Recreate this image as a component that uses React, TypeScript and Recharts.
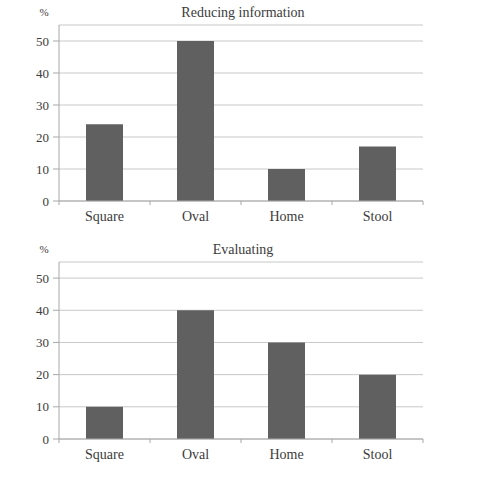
import { Bar, BarChart, CartesianGrid, XAxis, YAxis } from "recharts";

const categories = ["Square", "Oval", "Home", "Stool"];
const reducingValues = [24, 50, 10, 17];
const evaluatingValues = [10, 40, 30, 20];
const yTicks = [0, 10, 20, 30, 40, 50];
const Y_MAX = 55;

const FONT = '"Liberation Serif", "Times New Roman", serif';
const TEXT = "#3c3c3c";
const AXIS = "#a8a8a8";
const GRID = "#c8c8c8";
const BAR = "#606060";

const CHART_W = 478;
const PLOT_LEFT = 59;
const PLOT_RIGHT_MARGIN = 55;
const BAND = (CHART_W - PLOT_LEFT - PLOT_RIGHT_MARGIN) / categories.length;

// category label plus the small boundary ticks between categories
function CategoryTick(props: any) {
  const { x, y, payload, index } = props;
  const half = payload?.offset || BAND / 2;
  const axisY = y - 10;
  const last = index === categories.length - 1;
  return (
    <g>
      <line x1={x - half} x2={x - half} y1={axisY} y2={axisY + 4} stroke={AXIS} />
      {last && <line x1={x + half} x2={x + half} y1={axisY} y2={axisY + 4} stroke={AXIS} />}
      <text x={x} y={y} dy="0.71em" textAnchor="middle" fill={TEXT} fontSize={14} fontFamily={FONT}>
        {payload.value}
      </text>
    </g>
  );
}

function Panel({
  title,
  values,
  top,
  height,
  bottom,
}: {
  title: string;
  values: number[];
  top: number;
  height: number;
  bottom: number;
}) {
  const data = categories.map((name, i) => ({ name, value: values[i] }));
  return (
    <div style={{ position: "absolute", left: 0, top, width: CHART_W, height }}>
      <BarChart
        width={CHART_W}
        height={height}
        data={data}
        margin={{ top: 25, right: PLOT_RIGHT_MARGIN, bottom, left: 0 }}
        barSize={37}
      >
        <CartesianGrid horizontal vertical={false} stroke={GRID} />
        <XAxis
          dataKey="name"
          height={30}
          axisLine={{ stroke: AXIS }}
          tickLine={false}
          tickSize={4}
          tickMargin={6}
          interval={0}
          tick={<CategoryTick />}
        />
        <YAxis
          width={PLOT_LEFT}
          domain={[0, Y_MAX]}
          ticks={yTicks}
          allowDataOverflow
          axisLine={{ stroke: AXIS }}
          tickLine={{ stroke: AXIS }}
          tickSize={6}
          tickMargin={4}
          tick={{ fill: TEXT, fontSize: 13, fontFamily: FONT }}
        />
        <Bar dataKey="value" fill={BAR} isAnimationActive={false} />
      </BarChart>
      <svg
        width={CHART_W}
        height={30}
        style={{ position: "absolute", left: 0, top: 0, pointerEvents: "none" }}
      >
        <text x={44} y={16} textAnchor="middle" fill={TEXT} fontSize={11} fontFamily={FONT}>
          %
        </text>
        <text x={243} y={17} textAnchor="middle" fill={TEXT} fontSize={14} fontFamily={FONT}>
          {title}
        </text>
      </svg>
    </div>
  );
}

export default function App() {
  return (
    <div style={{ position: "absolute", left: 0, top: 0, width: 478, height: 491, background: "#fff" }}>
      <Panel title="Reducing information" values={reducingValues} top={0} height={235} bottom={4} />
      <Panel title="Evaluating" values={evaluatingValues} top={237} height={254} bottom={22} />
    </div>
  );
}
